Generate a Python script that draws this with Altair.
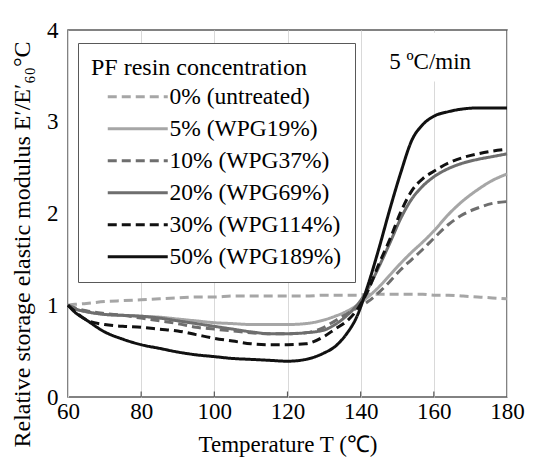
import altair as alt
import pandas as pd

temps = [60, 62, 65, 70, 75, 80, 85, 90, 95, 100, 105, 110, 115, 120, 125, 130,
         133, 136, 139, 142, 145, 148, 151, 154, 157, 160, 164, 168, 172, 176, 180]

series_names = ["0% (untreated)", "5% (WPG19%)", "10% (WPG37%)",
                "20% (WPG69%)", "30% (WPG114%)", "50% (WPG189%)"]

vals_0 = [1.00, 1.01, 1.02, 1.04, 1.05, 1.06, 1.07, 1.08, 1.09, 1.09, 1.10, 1.10, 1.10, 1.10, 1.10, 1.11,
          1.11, 1.11, 1.11, 1.12, 1.12, 1.12, 1.12, 1.12, 1.12, 1.11, 1.11, 1.10, 1.09, 1.08, 1.07]
vals_5 = [1.00, 0.96, 0.93, 0.90, 0.89, 0.88, 0.87, 0.85, 0.83, 0.81, 0.80, 0.79, 0.79, 0.79, 0.80, 0.84,
          0.88, 0.93, 1.00, 1.09, 1.20, 1.33, 1.46, 1.58, 1.69, 1.81, 1.99, 2.14, 2.26, 2.36, 2.43]
vals_10 = [1.00, 0.97, 0.94, 0.91, 0.89, 0.86, 0.83, 0.80, 0.76, 0.74, 0.72, 0.70, 0.69, 0.69, 0.70, 0.76,
           0.83, 0.90, 0.97, 1.04, 1.14, 1.26, 1.39, 1.50, 1.61, 1.73, 1.88, 1.99, 2.06, 2.11, 2.13]
vals_20 = [1.00, 0.96, 0.93, 0.90, 0.89, 0.88, 0.86, 0.83, 0.80, 0.77, 0.74, 0.71, 0.69, 0.69, 0.70, 0.73,
           0.79, 0.88, 1.00, 1.18, 1.42, 1.68, 1.95, 2.16, 2.30, 2.40, 2.49, 2.55, 2.59, 2.62, 2.65]
vals_30 = [1.00, 0.93, 0.84, 0.79, 0.77, 0.76, 0.74, 0.72, 0.68, 0.64, 0.61, 0.58, 0.57, 0.57, 0.58, 0.66,
           0.74, 0.82, 0.95, 1.16, 1.45, 1.72, 2.02, 2.25, 2.38, 2.46, 2.55, 2.61, 2.65, 2.68, 2.70]
vals_50 = [1.00, 0.92, 0.84, 0.71, 0.63, 0.57, 0.53, 0.49, 0.46, 0.44, 0.42, 0.41, 0.40, 0.39, 0.41, 0.48,
           0.55, 0.68, 0.88, 1.22, 1.62, 2.05, 2.45, 2.80, 2.97, 3.06, 3.11, 3.14, 3.15, 3.15, 3.15]

all_vals = [vals_0, vals_5, vals_10, vals_20, vals_30, vals_50]

colors = ["#a6a6a6", "#a6a6a6", "#6e6e6e", "#6e6e6e", "#111111", "#111111"]
dashes = [[9, 5], [1, 0], [9, 5], [1, 0], [9, 5], [1, 0]]

x_ticks = [60, 80, 100, 120, 140, 160, 180]
y_ticks = [0, 1, 2, 3, 4]

rows = []
for name, vals in zip(series_names, all_vals):
    for t, v in zip(temps, vals):
        rows.append({"T": t, "E": v, "series": name})
df = pd.DataFrame(rows)

FONT = "Liberation Serif"
legend_title = "PF resin concentration"

x_scale = alt.Scale(domain=[60, 180], nice=False, zero=False)
y_scale = alt.Scale(domain=[0, 4], nice=False, zero=False)

x_enc = alt.X("T:Q", scale=x_scale,
              axis=alt.Axis(values=x_ticks, format="d", title="Temperature T (℃)", grid=True,
                            gridColor="#d9d9d9", domain=False, ticks=False,
                            labelFontSize=23, labelColor="black", labelPadding=3, labelFlush=False,
                            titleFontSize=23, titleFontWeight="normal", titleColor="black",
                            titlePadding=10, labelFont=FONT, titleFont=FONT))
y_enc = alt.Y("E:Q", scale=y_scale,
              axis=alt.Axis(values=y_ticks, format="d",
                            title="Relative storage elastic modulus E′/E′₆₀°C",
                            grid=False, domain=False, ticks=False, labelPadding=10, labelFlush=False,
                            labelFontSize=23, labelColor="black",
                            titleFontSize=24, titleFontWeight="normal", titleColor="black",
                            titleAngle=-90, titleAlign="center", titleBaseline="middle",
                            titleX=-46, titleY=214, labelFont=FONT, titleFont=FONT))

legend = alt.Legend(title=legend_title, orient="none", legendX=10, legendY=13,
                    fillColor="white", strokeColor="#595959", padding=13,
                    symbolType="M-3,0L3,0", symbolSize=400, symbolStrokeWidth=3,
                    symbolOffset=35,
                    labelFont=FONT, labelFontSize=23.5, labelColor="black", labelOffset=20,
                    labelLimit=400, titleLimit=400,
                    titleFont=FONT, titleFontSize=24, titleFontWeight="normal",
                    titleColor="black", titlePadding=5, rowPadding=7)

lines = alt.Chart(df).mark_line(strokeWidth=3, interpolate="monotone").encode(
    x=x_enc,
    y=y_enc,
    color=alt.Color("series:N", scale=alt.Scale(domain=series_names, range=colors), legend=legend),
    strokeDash=alt.StrokeDash("series:N", scale=alt.Scale(domain=series_names, range=dashes), legend=legend),
    order=alt.Order("T:Q"),
)

tick_df = pd.DataFrame({"T": x_ticks[1:-1]})
ticks = alt.Chart(tick_df).mark_rule(color="#595959", strokeWidth=1.2).encode(
    x=alt.X("T:Q", scale=x_scale),
    y=alt.YDatum(0, scale=y_scale), y2=alt.Y2Datum(0.06)
)

cover = alt.Chart(pd.DataFrame({"a": [0]})).mark_rect(color="white").encode(
    x=alt.XDatum(157, scale=x_scale), x2=alt.X2Datum(163),
    y=alt.YDatum(3.44, scale=y_scale), y2=alt.Y2Datum(3.97)
)

note = alt.Chart(pd.DataFrame({"a": [0]})).mark_text(
    text="5 ºC/min", font=FONT, fontSize=23, color="black", align="center", baseline="middle"
).encode(x=alt.XDatum(159, scale=x_scale), y=alt.YDatum(3.65, scale=y_scale))

chart = alt.layer(lines, ticks, cover, note).properties(
    width=439, height=367,
    autosize=alt.AutoSizeParams(type="none"),
    padding={"left": 60, "top": 22, "right": 25, "bottom": 60},
).configure(font=FONT).configure_view(stroke="#595959", strokeWidth=1.5)

chart.save("out.html", embed_options={"renderer": "svg", "actions": False})
